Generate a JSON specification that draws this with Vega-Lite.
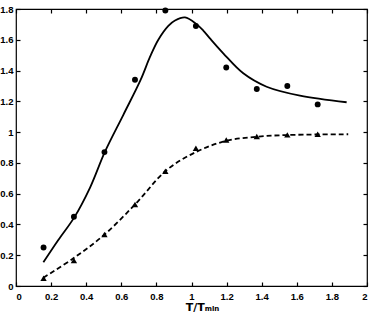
{
  "$schema": "https://vega.github.io/schema/vega-lite/v6.json",
  "width": 351,
  "height": 277,
  "autosize": "none",
  "padding": {"left": 16, "top": 9, "right": 7, "bottom": 33},
  "background": "white",
  "config": {
    "view": {"stroke": "black", "strokeWidth": 1.2},
    "axis": {
      "domain": false,
      "grid": false,
      "ticks": true,
      "tickSize": -4,
      "tickColor": "black",
      "tickWidth": 1.2,
      "labelFont": "Liberation Sans",
      "labelFontWeight": "bold",
      "labelFontSize": 9.5,
      "labelColor": "black",
      "titleFont": "DejaVu Sans",
      "titleFontWeight": "bold",
      "titleFontSize": 11,
      "titleColor": "black"
    }
  },
  "datasets": {
    "fitA": [
      {"x": 0.156, "y": 0.154}, {"x": 0.241, "y": 0.299}, {"x": 0.332, "y": 0.446},
      {"x": 0.422, "y": 0.64}, {"x": 0.507, "y": 0.873}, {"x": 0.611, "y": 1.111},
      {"x": 0.710, "y": 1.339}, {"x": 0.764, "y": 1.49}, {"x": 0.811, "y": 1.60},
      {"x": 0.868, "y": 1.69}, {"x": 0.906, "y": 1.725}, {"x": 0.963, "y": 1.745},
      {"x": 1.030, "y": 1.70}, {"x": 1.067, "y": 1.66}, {"x": 1.105, "y": 1.609},
      {"x": 1.181, "y": 1.512}, {"x": 1.295, "y": 1.382}, {"x": 1.428, "y": 1.295},
      {"x": 1.618, "y": 1.237}, {"x": 1.884, "y": 1.194}
    ],
    "fitB": [
      {"x": 0.156, "y": 0.054}, {"x": 0.327, "y": 0.18}, {"x": 0.501, "y": 0.331},
      {"x": 0.684, "y": 0.537}, {"x": 0.859, "y": 0.754}, {"x": 1.030, "y": 0.873},
      {"x": 1.2, "y": 0.944}, {"x": 1.372, "y": 0.97}, {"x": 1.542, "y": 0.981},
      {"x": 1.893, "y": 0.986}
    ],
    "circles": [
      {"x": 0.157, "y": 0.25}, {"x": 0.330, "y": 0.45}, {"x": 0.504, "y": 0.87},
      {"x": 0.678, "y": 1.34}, {"x": 0.851, "y": 1.79}, {"x": 1.025, "y": 1.69},
      {"x": 1.198, "y": 1.42}, {"x": 1.372, "y": 1.28}, {"x": 1.546, "y": 1.30},
      {"x": 1.719, "y": 1.18}
    ],
    "triangles": [
      {"x": 0.157, "y": 0.05}, {"x": 0.330, "y": 0.165}, {"x": 0.504, "y": 0.335},
      {"x": 0.678, "y": 0.53}, {"x": 0.851, "y": 0.745}, {"x": 1.025, "y": 0.895},
      {"x": 1.198, "y": 0.948}, {"x": 1.372, "y": 0.972}, {"x": 1.546, "y": 0.982},
      {"x": 1.719, "y": 0.986}
    ]
  },
  "resolve": {"axis": {"x": "independent", "y": "independent"}},
  "layer": [
    {
      "data": {"name": "fitA"},
      "mark": {"type": "line", "color": "black", "strokeWidth": 1.8, "interpolate": "catmull-rom"},
      "encoding": {
        "x": {"field": "x", "type": "quantitative",
              "scale": {"domain": [0, 2], "nice": false},
              "axis": {"orient": "bottom", "values": [0, 0.2, 0.4, 0.6, 0.8, 1, 1.2, 1.4, 1.6, 1.8, 2], "format": "~g", "labelPadding": 9, "title": "T/Tₘᵢₙ", "titleX": 186, "titleY": 24, "titleAlign": "center", "titleBaseline": "alphabetic"}},
        "y": {"field": "y", "type": "quantitative",
              "scale": {"domain": [0, 1.8], "nice": false},
              "axis": {"orient": "left", "values": [0, 0.2, 0.4, 0.6, 0.8, 1, 1.2, 1.4, 1.6, 1.8], "format": "~g", "labelPadding": 7, "title": null}}
      }
    },
    {
      "data": {"name": "fitB"},
      "mark": {"type": "line", "color": "black", "strokeWidth": 1.8, "strokeDash": [5, 3], "interpolate": "catmull-rom"},
      "encoding": {
        "x": {"field": "x", "type": "quantitative",
              "axis": {"orient": "top", "values": [0, 0.2, 0.4, 0.6, 0.8, 1, 1.2, 1.4, 1.6, 1.8, 2], "labels": false, "title": null}},
        "y": {"field": "y", "type": "quantitative",
              "axis": {"orient": "right", "values": [0, 0.2, 0.4, 0.6, 0.8, 1, 1.2, 1.4, 1.6, 1.8], "labels": false, "title": null}}
      }
    },
    {
      "data": {"name": "circles"},
      "mark": {"type": "point", "shape": "circle", "filled": true, "color": "black", "size": 35, "opacity": 1},
      "encoding": {
        "x": {"field": "x", "type": "quantitative", "axis": null},
        "y": {"field": "y", "type": "quantitative", "axis": null}
      }
    },
    {
      "data": {"name": "triangles"},
      "mark": {"type": "point", "shape": "triangle-up", "filled": true, "color": "black", "size": 40, "opacity": 1},
      "encoding": {
        "x": {"field": "x", "type": "quantitative", "axis": null},
        "y": {"field": "y", "type": "quantitative", "axis": null}
      }
    }
  ]
}
